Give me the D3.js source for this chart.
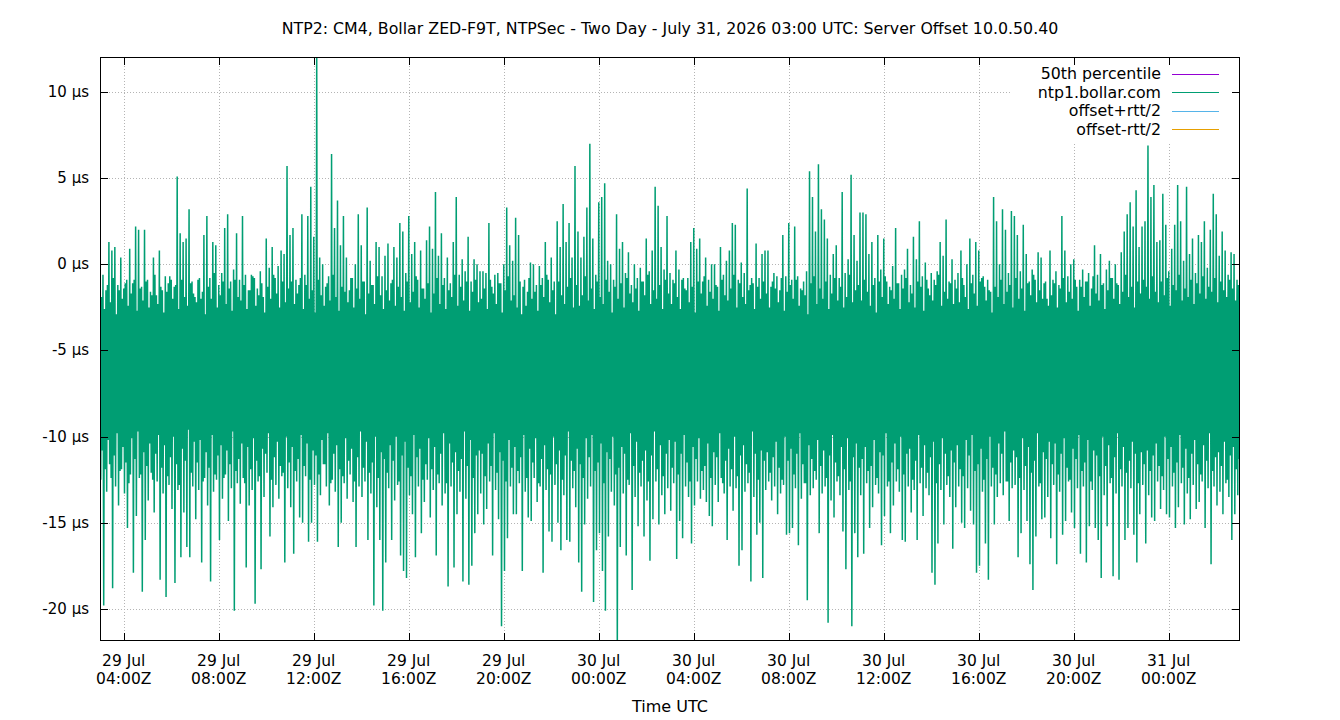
<!DOCTYPE html>
<html>
<head>
<meta charset="utf-8">
<script src="https://cdn.jsdelivr.net/npm/d3@7"></script>
<style>
  body { margin: 0; background: #fff; }
  svg { display: block; font-family: "DejaVu Sans", sans-serif; }
</style>
</head>
<body>
<svg id="chart" width="1340" height="720"></svg>
<script>
// two day window, four readings in every 7.5 minute step
var startTime = Date.UTC(2026, 6, 29, 3, 0)
var endTime = Date.UTC(2026, 6, 31, 3, 0)
var sampleMinutes = 7.5

// biggest upward excursion in each step (µs)
var offsetHigh = [
  -0.8,-0.6,-1.5,1.3,0.8,1.0,-1.2,0.4,-1.4,-0.9,0.9,-1.1,2.2,2.0,-1.3,2.0,-0.9,-1.6,0.4,-1.8,0.8,-1.5,-0.7,-1.1,-0.9,-1.3,5.1,1.8,1.3,1.5,3.2,-1.0,
  -1.9,-0.9,-2.0,1.7,2.8,-0.8,1.3,1.1,-1.2,-0.5,2.1,2.9,-1.0,-0.3,1.8,-0.9,2.8,-0.6,-1.5,-0.6,-0.8,-1.4,-0.4,-1.9,1.5,-0.2,1.0,-0.8,-0.1,0.8,0.6,5.7,
  1.7,2.1,-0.9,-1.2,2.9,-0.6,2.8,4.5,1.6,12.4,0.4,0.0,-1.3,-0.7,6.4,2.1,3.7,1.1,2.8,0.4,-1.5,-0.8,0.0,2.9,1.1,-1.0,3.3,0.2,-1.2,1.3,1.0,-0.7,
  0.5,1.2,-1.1,1.0,0.4,2.4,1.9,-0.5,2.8,0.6,1.3,-0.9,0.8,-1.4,1.4,2.2,0.9,4.2,0.5,1.8,-0.8,0.4,-1.1,1.3,3.9,-0.6,0.3,-0.4,1.6,-1.0,0.3,0.0,
  -0.4,-0.4,-0.5,2.4,-1.3,-0.6,-0.5,-1.1,0.0,3.3,1.1,0.2,2.7,1.7,-2.9,-0.9,-1.6,0.1,0.0,-1.2,-0.1,-0.8,1.3,-0.9,0.4,-1.0,2.5,1.0,3.5,1.3,2.4,0.4,
  5.7,1.9,0.4,1.6,3.3,7.0,1.5,-0.6,3.6,3.9,4.7,0.2,0.0,-0.9,2.9,0.9,1.3,-0.5,0.7,-1.2,0.0,-0.8,-0.2,-1.0,1.5,-0.4,0.8,4.5,3.4,1.0,-0.3,2.8,
  -0.5,-0.9,0.8,-0.3,-0.9,-1.4,-0.8,1.3,2.1,0.9,1.5,-1.0,0.4,-0.9,0.0,0.0,-1.3,1.0,-0.6,0.2,0.8,2.4,2.3,-0.9,0.1,-0.5,4.4,-1.2,-1.1,1.2,-0.8,0.6,
  0.8,0.8,-1.3,-0.5,-0.7,-1.5,1.7,-0.7,2.4,-0.9,2.2,-0.7,-1.4,-1.0,-0.4,5.4,3.9,1.9,5.8,3.2,2.6,1.5,-0.6,0.6,1.1,-0.8,4.2,-0.5,0.3,5.2,1.7,0.2,
  3.0,3.0,2.9,0.6,1.3,-0.8,1.7,-0.3,1.5,-1.0,-1.3,-0.1,2.1,-1.1,-0.6,-0.3,0.9,-1.2,1.6,0.3,2.5,-0.7,0.1,-1.4,-0.5,-0.9,-0.4,1.3,0.5,2.6,-1.0,0.3,
  -0.9,-0.5,0.8,-1.2,0.0,1.5,-0.6,1.3,0.8,-0.8,-1.3,-0.9,-1.6,3.9,2.5,0.0,3.2,2.0,-0.5,3.1,2.8,1.7,-0.4,2.3,0.6,-1.0,-0.3,-0.9,0.7,0.4,-1.1,-2.0,
  0.8,-0.9,-0.4,-1.2,2.8,0.8,-0.7,0.0,0.3,-1.3,-0.9,-0.3,-1.0,-0.5,-1.4,1.1,-0.6,0.6,-1.1,-0.3,0.2,-0.8,0.0,-1.2,0.7,1.9,2.9,3.6,2.2,4.3,1.0,2.2,
  2.5,6.9,3.9,4.6,1.3,1.4,4.1,2.3,-0.4,0.9,2.3,4.6,2.5,0.2,4.5,0.6,1.5,-0.5,1.7,1.3,2.5,-0.2,2.0,4.1,2.9,0.5,1.9,0.8,-0.6,0.7,0.6,-0.9
]

// biggest downward excursion in each step (µs)
var offsetLow = [
  -12.5,-19.8,-13.2,-11.6,-18.8,-12.9,-14.0,-11.9,-13.3,-15.3,-12.2,-17.9,-14.6,-12.4,-19.0,-16.0,-13.7,-12.1,-14.4,-12.6,-18.3,-13.3,-19.3,-12.8,-14.2,-18.5,-13.1,-17.0,-14.4,-16.4,-17.0,-12.9,
  -14.8,-13.1,-17.3,-12.4,-14.0,-18.4,-13.2,-12.5,-16.0,-13.6,-12.2,-14.9,-13.0,-20.1,-12.7,-13.9,-12.4,-17.6,-14.0,-13.1,-19.7,-12.6,-17.7,-13.5,-12.1,-15.8,-14.1,-12.8,-13.6,-12.3,-17.3,-13.0,
  -14.1,-16.8,-12.6,-14.7,-15.0,-12.3,-16.1,-15.0,-12.8,-16.1,-13.4,-11.6,-12.9,-14.0,-12.5,-13.2,-16.4,-15.0,-12.7,-13.6,-12.2,-13.8,-16.4,-12.9,-13.5,-12.6,-16.0,-13.3,-19.8,-14.1,-16.0,-20.1,
  -17.3,-13.0,-16.0,-13.7,-12.8,-16.9,-17.8,-18.2,-13.4,-14.5,-17.0,-12.9,-15.6,-13.8,-12.5,-14.7,-13.1,-16.9,-12.7,-14.0,-13.3,-18.7,-12.9,-17.6,-14.5,-13.2,-18.4,-13.6,-18.6,-17.5,-15.6,-14.5,
  -13.3,-15.1,-14.2,-12.6,-16.9,-13.1,-14.8,-21.0,-17.8,-15.9,-12.9,-14.5,-14.5,-12.7,-17.8,-13.2,-14.7,-14.9,-12.4,-13.8,-12.9,-17.9,-13.1,-15.5,-16.1,-12.8,-15.0,-16.6,-13.4,-16.0,-16.1,-13.0,
  -14.1,-17.3,-19.0,-15.1,-13.6,-12.9,-19.6,-16.6,-15.6,-17.8,-20.1,-15.8,-13.2,-14.0,-22.5,-16.4,-13.3,-16.9,-12.8,-18.9,-13.5,-15.2,-12.9,-15.8,-13.7,-17.2,-14.8,-12.6,-15.1,-13.4,-14.5,-13.0,
  -14.3,-12.7,-17.1,-14.9,-15.9,-12.9,-13.5,-16.2,-14.0,-12.6,-13.6,-13.1,-13.8,-14.6,-15.2,-12.8,-13.8,-12.4,-13.3,-16.0,-12.9,-14.3,-13.0,-17.5,-16.6,-13.2,-12.7,-18.4,-13.5,-15.7,-15.0,-18.2,
  -13.1,-12.6,-13.7,-12.9,-14.5,-13.3,-12.8,-15.7,-15.6,-15.3,-13.0,-16.3,-13.6,-12.7,-19.5,-13.4,-13.0,-12.5,-15.6,-13.3,-12.9,-20.8,-13.7,-14.7,-12.6,-13.4,-15.5,-17.7,-13.1,-21.0,-15.6,-17.0,
  -13.4,-16.8,-12.7,-15.3,-14.1,-12.8,-13.3,-16.3,-14.6,-12.9,-15.6,-14.0,-12.6,-13.2,-16.0,-16.1,-12.9,-14.4,-13.1,-16.0,-12.7,-14.6,-13.0,-13.4,-17.9,-18.6,-16.2,-13.1,-15.1,-12.8,-13.5,-16.5,
  -14.1,-12.9,-15.0,-15.3,-13.0,-14.3,-15.1,-17.9,-17.5,-13.2,-16.2,-18.3,-12.9,-15.1,-13.5,-12.7,-13.4,-12.6,-14.9,-13.0,-12.8,-17.0,-15.6,-13.1,-14.9,-17.4,-18.9,-15.8,-12.9,-14.8,-14.7,-13.5,
  -15.9,-12.8,-17.4,-13.2,-15.7,-14.9,-12.6,-14.4,-15.3,-13.0,-16.8,-12.9,-17.3,-15.2,-13.1,-15.3,-16.0,-18.2,-13.4,-15.2,-12.7,-18.1,-13.3,-18.3,-12.9,-16.0,-15.3,-13.0,-15.7,-17.3,-14.5,-12.8,
  -16.2,-13.4,-14.7,-14.9,-12.6,-14.2,-13.1,-14.5,-14.7,-12.9,-15.3,-14.1,-12.7,-15.1,-13.3,-14.8,-12.8,-14.2,-13.8,-12.6,-15.3,-13.0,-17.4,-12.9,-14.0,-13.2,-14.5,-12.7,-13.5,-16.0,-14.5,-13.4
]

// smaller upward reading in each step (µs), edge of the dense band
var innerHigh = [
  -1.9,-2.6,-1.2,-2.2,-0.8,-2.9,-1.5,-2.0,-1.1,-2.4,-1.7,-0.9,-2.7,-1.4,-2.1,-1.0,-2.5,-1.8,-0.6,-2.3,-1.3,-2.8,-1.6,-0.7,-2.0,-1.2,-2.6,-0.9,-1.9,-2.4,-1.1,-1.7,
  -2.2,-0.8,-1.6,-2.9,-1.3,-2.0,-0.5,-2.5,-1.8,-1.0,-2.3,-1.4,-2.7,-0.9,-1.9,-2.1,-1.2,-2.6,-1.5,-0.7,-2.4,-1.8,-1.1,-2.8,-1.3,-2.0,-0.6,-1.7,-2.5,-1.0,-2.2,-1.4,
  -1.0,-2.3,-1.7,-0.8,-2.6,-1.2,-2.0,-1.5,-2.8,-0.9,-1.8,-2.4,-1.1,-2.1,-0.6,-1.9,-2.7,-1.3,-1.6,-2.2,-0.8,-2.5,-1.4,-2.0,-1.0,-2.9,-1.7,-1.2,-2.3,-0.7,-1.8,-2.6,
  -1.5,-2.1,-0.9,-2.4,-1.3,-1.9,-2.7,-1.0,-2.2,-1.6,-0.7,-2.5,-1.4,-2.0,-1.1,-2.8,-1.7,-0.8,-2.3,-1.2,-2.6,-1.5,-1.9,-0.6,-2.4,-1.3,-2.1,-1.0,-2.7,-1.6,-0.9,-2.2,
  -2.0,-1.4,-2.6,-0.9,-1.7,-2.3,-1.1,-2.8,-1.5,-0.7,-2.1,-1.8,-2.5,-1.0,-1.3,-2.4,-0.8,-2.0,-1.6,-2.7,-1.2,-1.9,-0.6,-2.2,-1.5,-2.9,-1.0,-1.8,-2.3,-1.3,-0.8,-2.5,
  -1.2,-2.4,-1.8,-0.7,-2.1,-1.4,-2.6,-1.0,-1.9,-2.3,-0.9,-1.6,-2.8,-1.3,-2.0,-1.1,-2.5,-0.8,-1.7,-2.2,-1.4,-2.7,-1.0,-1.8,-0.6,-2.3,-1.5,-2.0,-1.2,-2.6,-0.9,-1.7,
  -2.3,-1.1,-1.9,-2.6,-0.8,-1.5,-2.2,-1.3,-2.8,-1.0,-1.7,-0.7,-2.4,-1.6,-2.0,-1.2,-2.7,-0.9,-1.8,-2.1,-1.4,-0.6,-2.5,-1.1,-1.9,-2.3,-1.5,-0.8,-2.6,-1.3,-2.0,-1.0,
  -1.7,-2.5,-1.0,-1.4,-2.2,-0.8,-2.7,-1.6,-1.2,-2.0,-0.9,-2.4,-1.5,-1.8,-2.9,-1.1,-0.7,-2.3,-1.4,-2.0,-1.0,-2.6,-1.7,-0.8,-2.1,-1.3,-2.5,-1.9,-0.6,-2.2,-1.5,-1.2,
  -2.1,-0.9,-1.6,-2.4,-1.2,-2.8,-1.0,-1.9,-0.7,-2.3,-1.5,-2.0,-1.1,-2.6,-1.4,-0.8,-2.2,-1.7,-2.5,-1.0,-1.3,-2.7,-0.9,-1.8,-2.1,-1.2,-0.6,-2.4,-1.6,-2.0,-1.1,-2.3,
  -1.4,-2.2,-0.8,-1.9,-2.6,-1.1,-1.7,-2.4,-1.0,-0.7,-2.1,-1.5,-2.8,-1.3,-1.9,-0.9,-2.3,-1.6,-1.2,-2.5,-0.8,-2.0,-1.4,-2.7,-1.1,-1.8,-0.6,-2.2,-1.5,-2.0,-1.0,-2.4,
  -1.8,-1.1,-2.5,-1.4,-0.8,-2.2,-1.6,-2.0,-0.9,-2.7,-1.3,-1.9,-1.0,-2.4,-0.7,-1.7,-2.1,-1.2,-2.6,-1.5,-0.8,-2.0,-1.1,-2.3,-1.6,-0.6,-1.9,-1.3,-2.5,-1.0,-1.7,-0.9,
  -1.3,-2.0,-0.7,-1.6,-2.2,-1.0,-1.8,-0.8,-2.4,-1.2,-1.5,-0.6,-2.1,-1.4,-1.9,-0.9,-2.3,-1.1,-1.7,-0.7,-2.0,-1.3,-1.6,-0.8,-2.2,-1.0,-1.5,-1.9,-0.9,-1.4,-2.1,-1.2
]

// smaller downward reading in each step (µs), edge of the dense band
var innerLow = [
  -10.8,-11.9,-10.2,-12.4,-11.1,-9.8,-12.0,-10.6,-11.5,-12.7,-10.1,-11.3,-9.7,-12.2,-10.9,-11.7,-10.4,-12.5,-11.0,-9.9,-11.8,-10.5,-12.3,-11.2,-10.0,-11.6,-12.8,-10.7,-11.4,-9.6,-12.1,-10.3,
  -11.5,-10.2,-12.6,-10.9,-11.8,-9.9,-12.2,-11.1,-10.5,-12.4,-10.8,-11.6,-9.7,-12.0,-11.3,-10.4,-12.7,-10.6,-11.9,-10.1,-11.4,-12.3,-10.7,-11.0,-9.8,-12.5,-11.2,-10.3,-11.7,-12.1,-10.0,-11.5,
  -10.6,-12.0,-11.3,-9.9,-11.7,-10.4,-12.5,-10.8,-11.1,-12.2,-10.2,-11.6,-9.8,-12.7,-11.0,-10.5,-11.9,-12.3,-10.1,-11.4,-10.7,-12.6,-11.2,-9.7,-11.8,-10.3,-12.1,-11.5,-10.0,-12.4,-10.9,-11.3,
  -12.1,-10.5,-11.4,-10.0,-12.6,-11.1,-10.3,-11.8,-12.3,-9.9,-11.2,-10.7,-12.5,-11.6,-10.1,-11.9,-10.6,-12.2,-11.0,-9.8,-12.7,-10.4,-11.5,-10.9,-12.0,-11.3,-9.7,-11.7,-10.2,-12.4,-11.1,-10.8,
  -11.0,-12.3,-10.4,-11.7,-9.8,-12.1,-10.9,-11.4,-12.6,-10.2,-11.8,-10.6,-12.0,-11.2,-9.9,-12.4,-10.7,-11.5,-10.1,-12.7,-11.3,-10.5,-11.9,-12.2,-10.0,-11.6,-10.8,-12.5,-11.1,-9.7,-11.4,-12.0,
  -10.7,-11.6,-12.4,-10.1,-11.2,-9.9,-12.0,-11.5,-10.4,-12.7,-10.9,-11.3,-10.0,-12.2,-11.8,-10.6,-11.0,-12.5,-9.8,-11.7,-10.3,-12.1,-11.4,-10.8,-12.6,-11.1,-9.7,-11.9,-10.5,-12.3,-11.0,-10.2,
  -11.8,-10.3,-12.2,-11.0,-9.9,-11.5,-12.6,-10.6,-11.3,-10.1,-12.0,-11.7,-10.4,-12.4,-10.9,-11.2,-9.8,-12.7,-11.4,-10.7,-11.9,-10.0,-12.3,-11.1,-10.5,-11.6,-12.1,-9.7,-11.0,-12.5,-10.8,-11.4,
  -10.9,-12.1,-11.2,-10.3,-11.8,-12.5,-10.0,-11.4,-10.7,-12.2,-11.0,-9.8,-11.6,-12.7,-10.5,-11.3,-12.0,-10.2,-11.7,-10.8,-12.4,-11.1,-9.9,-11.5,-12.3,-10.6,-11.9,-10.1,-12.6,-11.2,-10.4,-11.8,
  -11.3,-10.6,-12.0,-11.7,-10.2,-12.4,-10.9,-11.1,-9.8,-12.6,-11.5,-10.4,-11.9,-10.0,-12.2,-11.0,-10.7,-12.5,-11.4,-9.9,-11.8,-10.5,-12.1,-11.2,-10.3,-12.7,-11.6,-10.1,-11.0,-12.3,-10.8,-11.5,
  -10.5,-11.9,-12.3,-10.2,-11.1,-9.9,-12.0,-11.6,-10.7,-12.5,-11.3,-10.0,-11.8,-12.2,-10.4,-11.0,-9.7,-12.6,-11.5,-10.8,-11.2,-12.4,-10.1,-11.7,-10.6,-12.1,-11.4,-9.8,-12.7,-10.9,-11.3,-10.3,
  -11.6,-10.4,-12.2,-11.0,-10.1,-11.8,-12.5,-10.7,-11.3,-9.9,-12.0,-11.5,-10.2,-12.6,-10.8,-11.1,-12.3,-10.0,-11.7,-10.5,-12.4,-11.2,-9.8,-11.9,-10.6,-12.1,-11.4,-10.3,-11.0,-12.7,-10.9,-11.6,
  -10.8,-12.0,-11.1,-10.4,-11.7,-12.3,-10.0,-11.3,-10.6,-12.1,-11.5,-9.9,-11.8,-10.7,-12.4,-11.0,-10.2,-11.6,-12.2,-10.5,-11.4,-9.8,-12.0,-11.2,-10.9,-11.7,-10.3,-12.5,-11.1,-10.6,-11.9,-11.3
]

var yTicks = [-20, -15, -10, -5, 0, 5, 10]
var yDomain = [-21.86, 12.03]
var titleText = "NTP2: CM4, Bollar ZED-F9T, NTPSec - Two Day - July 31, 2026 03:00 UTC: Server Offset 10.0.50.40"
var xLabel = "Time UTC"
var legendLabels = ["50th percentile", "ntp1.bollar.com", "offset+rtt/2", "offset-rtt/2"]
var legendColors = ["#9400d3", "#009e73", "#56b4e9", "#e69f00"]

var margin = {left: 100, right: 100, top: 57, bottom: 79}
var width = 1340, height = 720
var traceColor = "#009e73"

var svg = d3.select("#chart")

var x = d3.scaleUtc()
    .domain([new Date(startTime), new Date(endTime)])
    .range([margin.left, width - margin.right])
var y = d3.scaleLinear()
    .domain(yDomain)
    .range([height - margin.bottom, margin.top])

var xTicks = x.ticks(d3.utcHour.every(4))
var fmtDay = d3.utcFormat("%d %b")
var fmtHour = d3.utcFormat("%H:%MZ")

// grid
var grid = svg.append("g").attr("stroke", "#b4b4b4").attr("stroke-width", 1).attr("stroke-dasharray", "1,2")
grid.selectAll("line.h").data(yTicks).enter().append("line")
    .attr("x1", margin.left).attr("x2", width - margin.right)
    .attr("y1", function(d){return Math.round(y(d)) + 0.5})
    .attr("y2", function(d){return Math.round(y(d)) + 0.5})
grid.selectAll("line.v").data(xTicks).enter().append("line")
    .attr("y1", margin.top).attr("y2", height - margin.bottom)
    .attr("x1", function(d){return Math.round(x(d)) + 0.5})
    .attr("x2", function(d){return Math.round(x(d)) + 0.5})

svg.append("clipPath").attr("id", "plotclip").append("rect")
    .attr("x", margin.left).attr("y", margin.top)
    .attr("width", width - margin.left - margin.right)
    .attr("height", height - margin.top - margin.bottom)

// trace: four readings per step, a quarter step apart
var step = sampleMinutes * 60000
var points = []
for (var i = 0; i < offsetHigh.length; i++) {
    var t = startTime + i * step
    points.push([t, offsetHigh[i]])
    points.push([t + step / 4, offsetLow[i]])
    points.push([t + step / 2, innerHigh[i]])
    points.push([t + step * 3 / 4, innerLow[i]])
}

var line = d3.line()
    .x(function(d){return x(new Date(d[0]))})
    .y(function(d){return y(d[1])})

svg.append("path")
    .datum(points)
    .attr("clip-path", "url(#plotclip)")
    .attr("fill", "none")
    .attr("stroke", traceColor)
    .attr("stroke-width", 1.5)
    .attr("stroke-linejoin", "miter")
    .attr("stroke-miterlimit", 1)
    .attr("d", line)

// legend
var legend = svg.append("g")
legend.append("rect").attr("x", 1012).attr("y", margin.top + 1).attr("width", width - margin.right - 1013).attr("height", 84).attr("fill", "#fff")
legendLabels.forEach(function(label, i){
    var ly = 73.5 + i * 18.5
    legend.append("text").attr("x", 1161).attr("y", ly + 5.5).attr("text-anchor", "end")
        .attr("font-size", 15.8).attr("fill", "#000").text(label)
    legend.append("line").attr("x1", 1172).attr("x2", 1219).attr("y1", Math.round(ly) + 0.5).attr("y2", Math.round(ly) + 0.5)
        .attr("stroke", legendColors[i]).attr("stroke-width", 1)
})

// border and ticks
svg.append("rect").attr("x", margin.left + 0.5).attr("y", margin.top + 0.5)
    .attr("width", width - margin.left - margin.right - 1)
    .attr("height", height - margin.top - margin.bottom - 1)
    .attr("fill", "none").attr("stroke", "#000").attr("stroke-width", 1)

var ticks = svg.append("g").attr("stroke", "#000").attr("stroke-width", 1)
yTicks.forEach(function(d){
    var ty = Math.round(y(d)) + 0.5
    ticks.append("line").attr("x1", margin.left).attr("x2", margin.left + 8).attr("y1", ty).attr("y2", ty)
    ticks.append("line").attr("x1", width - margin.right - 8).attr("x2", width - margin.right).attr("y1", ty).attr("y2", ty)
})
xTicks.forEach(function(d){
    var tx = Math.round(x(d)) + 0.5
    ticks.append("line").attr("x1", tx).attr("x2", tx).attr("y1", height - margin.bottom).attr("y2", height - margin.bottom - 8)
    ticks.append("line").attr("x1", tx).attr("x2", tx).attr("y1", margin.top).attr("y2", margin.top + 8)
})

// labels
svg.selectAll("text.ylab").data(yTicks).enter().append("text")
    .attr("x", 89).attr("y", function(d){return y(d) + 5})
    .attr("text-anchor", "end").attr("font-size", 15)
    .text(function(d){return d + " µs"})

var xl = svg.selectAll("text.xlab").data(xTicks).enter().append("text")
    .attr("text-anchor", "middle").attr("font-size", 15.5)
xl.append("tspan").attr("x", function(d){return x(d)}).attr("y", 666).text(function(d){return fmtDay(d)})
xl.append("tspan").attr("x", function(d){return x(d)}).attr("y", 684).text(function(d){return fmtHour(d)})

svg.append("text").attr("x", 670).attr("y", 712).attr("text-anchor", "middle").attr("font-size", 16).text(xLabel)
svg.append("text").attr("x", 670).attr("y", 34).attr("text-anchor", "middle").attr("font-size", 15.8).text(titleText)
</script>
</body>
</html>
